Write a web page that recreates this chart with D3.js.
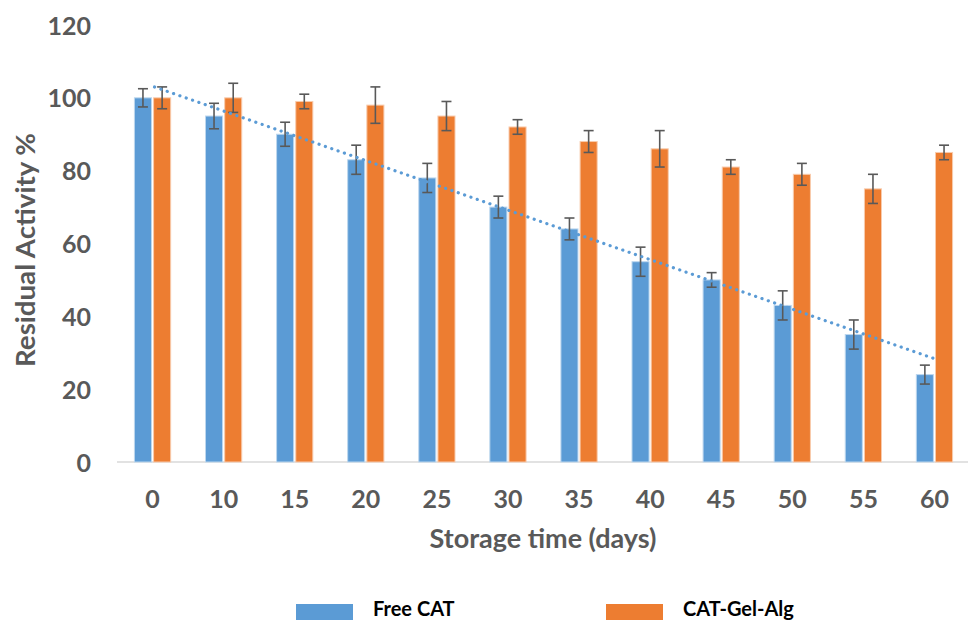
<!DOCTYPE html>
<html>
<head>
<meta charset="utf-8">
<script src="https://cdn.jsdelivr.net/npm/d3@7"></script>
<style>
  html, body { margin: 0; padding: 0; background: #fff; }
  svg { display: block; }
  text { font-family: Lato, "Open Sans", sans-serif; }
</style>
</head>
<body>
<svg id="chart" width="969" height="620"></svg>
<script>
const categories = ["0", "10", "15", "20", "25", "30", "35", "40", "45", "50", "55", "60"];
const freeCAT = [100, 95, 90, 83, 78, 70, 64, 55, 50, 43, 35, 24];
const freeCATErr = [2.5, 3.5, 3.3, 4, 4, 3, 3, 4, 2, 4, 4, 2.6];
const gelAlg = [100, 100, 99, 98, 95, 92, 88, 86, 81, 79, 75, 85];
const gelAlgErr = [3, 4, 2, 5, 4, 2, 3, 5, 2, 3, 4, 2];
const yTicks = [0, 20, 40, 60, 80, 100, 120];
const seriesNames = ["Free CAT", "CAT-Gel-Alg"];
const colors = ["#5B9BD5", "#ED7D31"];
const strokeColors = ["#BDD7EE", "#F8CBAD"];

const svg = d3.select("#chart");

const x0 = d3.scaleBand().domain(categories).range([117, 970]).paddingInner(0.49).paddingOuter(0.245);
const x1 = d3.scaleBand().domain(seriesNames).range([0, x0.bandwidth()]).paddingInner(0.11);
const y = d3.scaleLinear().domain([0, 120]).range([462, 25]);

const series = [
  { name: seriesNames[0], values: freeCAT, err: freeCATErr, color: colors[0], stroke: strokeColors[0] },
  { name: seriesNames[1], values: gelAlg, err: gelAlgErr, color: colors[1], stroke: strokeColors[1] }
];

// axis line
svg.append("line")
  .attr("x1", 117).attr("x2", 968)
  .attr("y1", y(0)).attr("y2", y(0))
  .attr("stroke", "#D9D9D9").attr("stroke-width", 1.5);

// y tick labels
const yAxis = d3.axisLeft(y).tickValues(yTicks).tickSize(0).tickPadding(0);
const yg = svg.append("g").attr("transform", "translate(91,0)").call(yAxis);
yg.select(".domain").remove();
yg.selectAll("text")
  .attr("font-family", "Lato, 'Open Sans', sans-serif")
  .attr("font-size", 25).attr("font-weight", "bold").attr("fill", "#595959")
  .attr("dy", "0.36em");

// x tick labels
const xAxis = d3.axisBottom(x0).tickSize(0).tickPadding(0);
const xg = svg.append("g").attr("transform", "translate(0,490)").call(xAxis);
xg.select(".domain").remove();
xg.selectAll("text")
  .attr("font-family", "Lato, 'Open Sans', sans-serif")
  .attr("font-size", 25).attr("font-weight", "bold").attr("fill", "#595959")
  .attr("dy", "0.71em");

// bars
series.forEach(s => {
  const g = svg.append("g");
  g.selectAll("rect")
    .data(categories.map((c, i) => ({ c, v: s.values[i], e: s.err[i] })))
    .join("rect")
    .attr("x", d => x0(d.c) + x1(s.name))
    .attr("y", d => y(d.v))
    .attr("width", x1.bandwidth())
    .attr("height", d => y(0) - y(d.v))
    .attr("fill", s.color)
    .attr("stroke", s.stroke).attr("stroke-width", 1);
});

// error bars
series.forEach(s => {
  const g = svg.append("g").attr("stroke", "#595959").attr("stroke-width", 1.6).attr("fill", "none");
  const data = categories.map((c, i) => ({ c, v: s.values[i], e: s.err[i] }));
  const cx = d => x0(d.c) + x1(s.name) + x1.bandwidth() / 2;
  g.selectAll("line.v").data(data).join("line").attr("class", "v")
    .attr("x1", cx).attr("x2", cx)
    .attr("y1", d => y(d.v + d.e)).attr("y2", d => y(d.v - d.e));
  g.selectAll("line.t").data(data).join("line").attr("class", "t")
    .attr("x1", d => cx(d) - 5).attr("x2", d => cx(d) + 5)
    .attr("y1", d => y(d.v + d.e)).attr("y2", d => y(d.v + d.e));
  g.selectAll("line.b").data(data).join("line").attr("class", "b")
    .attr("x1", d => cx(d) - 5).attr("x2", d => cx(d) + 5)
    .attr("y1", d => y(d.v - d.e)).attr("y2", d => y(d.v - d.e));
});

// linear trendline for Free CAT (least squares on category index)
const n = freeCAT.length;
const xs = d3.range(1, n + 1);
const mx = d3.mean(xs), my = d3.mean(freeCAT);
const slope = d3.sum(xs.map((xv, i) => (xv - mx) * (freeCAT[i] - my))) / d3.sum(xs.map(xv => (xv - mx) ** 2));
const intercept = my - slope * mx;
const trendPts = [0, n - 1].map(i => ({ c: categories[i], v: intercept + slope * (i + 1) }));
svg.append("path")
  .datum(trendPts)
  .attr("d", d3.line().x(d => x0(d.c) + x0.bandwidth() / 2 + 2).y(d => y(d.v)))
  .attr("fill", "none")
  .attr("stroke", "#5B9BD5").attr("stroke-width", 3.2)
  .attr("stroke-linecap", "round")
  .attr("stroke-dasharray", "0.1 6.6");

// axis titles
svg.append("text")
  .attr("x", 543).attr("y", 548)
  .attr("text-anchor", "middle")
  .attr("font-size", 26).attr("font-weight", "bold").attr("fill", "#595959")
  .attr("textLength", 227).attr("lengthAdjust", "spacingAndGlyphs")
  .text("Storage time (days)");

svg.append("text")
  .attr("transform", "translate(35,250) rotate(-90)")
  .attr("text-anchor", "middle")
  .attr("font-size", 26).attr("font-weight", "bold").attr("fill", "#595959")
  .attr("textLength", 234).attr("lengthAdjust", "spacingAndGlyphs")
  .text("Residual Activity %");

// legend
const legendX = [296, 606];
series.forEach((s, i) => {
  svg.append("rect")
    .attr("x", legendX[i]).attr("y", 604)
    .attr("width", 57).attr("height", 18)
    .attr("fill", s.color);
  svg.append("text")
    .attr("x", legendX[i] + 77).attr("y", 616)
    .attr("font-size", 20).attr("font-weight", "bold").attr("fill", "#000")
    .text(s.name);
});
</script>
</body>
</html>
